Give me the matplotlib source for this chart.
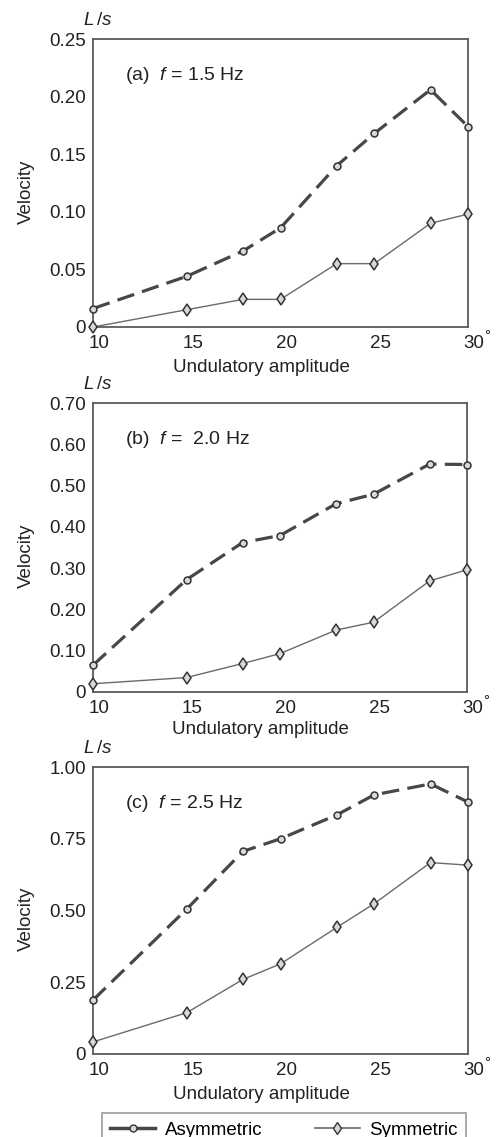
import matplotlib
matplotlib.use("Agg")
import matplotlib.pyplot as plt
import matplotlib.transforms as mtransforms
from matplotlib.lines import Line2D

plt.rcParams['font.family'] = ['Liberation Sans', 'DejaVu Sans']
plt.rcParams['mathtext.fontset'] = 'custom'
plt.rcParams['mathtext.it'] = 'Liberation Sans:italic'
plt.rcParams['mathtext.rm'] = 'Liberation Sans'

# amplitude (degrees)
amplitude = [10, 15, 18, 20, 23, 25, 28, 30]

# (a) f = 1.5 Hz
asym_a = [0.016, 0.044, 0.066, 0.086, 0.140, 0.168, 0.206, 0.174]
sym_a = [0.0, 0.015, 0.024, 0.024, 0.055, 0.055, 0.090, 0.098]
# (b) f = 2.0 Hz
asym_b = [0.065, 0.272, 0.362, 0.379, 0.456, 0.479, 0.552, 0.551]
sym_b = [0.020, 0.035, 0.069, 0.093, 0.150, 0.169, 0.269, 0.296]
# (c) f = 2.5 Hz
asym_c = [0.188, 0.505, 0.706, 0.750, 0.833, 0.903, 0.941, 0.878]
sym_c = [0.042, 0.144, 0.260, 0.314, 0.441, 0.524, 0.667, 0.658]

titles = [r"(a)  $f$ = 1.5 Hz", r"(b)  $f$ =  2.0 Hz", r"(c)  $f$ = 2.5 Hz"]
yticks_list = [[0, 0.05, 0.10, 0.15, 0.20, 0.25],
               [0, 0.10, 0.20, 0.30, 0.40, 0.50, 0.60, 0.70],
               [0, 0.25, 0.50, 0.75, 1.00]]
xticks = [10, 15, 20, 25, 30]

W, H = 498, 1137
fig = plt.figure(figsize=(W / 100, H / 100), dpi=100)

# axes boxes in pixels: left, right, top, bottom
boxes = [(93, 468, 39, 327), (93, 467, 403, 692), (93, 468, 767, 1054)]
label_y = [-0.110, -0.100, -0.111]

series = [(asym_a, sym_a), (asym_b, sym_b), (asym_c, sym_c)]

dark = '#474747'
light = '#6a6a6a'

for i, (l, r, t, b) in enumerate(boxes):
    ax = fig.add_axes([l / W, 1 - b / H, (r - l) / W, (b - t) / H])
    asym, sym = series[i]
    ax.plot(amplitude, asym, color=dark, lw=2.3, dashes=(5.5, 2.6),
            marker='o', ms=5, mfc='#d8d8d8', mec='#333333', mew=1.1, clip_on=False, zorder=3)
    ax.plot(amplitude, sym, color=light, lw=1.0,
            marker='d', ms=6, mfc='#d8d8d8', mec='#333333', mew=1.1, clip_on=False, zorder=3)
    yt = yticks_list[i]
    ax.set_xlim(10, 30)
    ax.set_ylim(0, yt[-1])
    ax.set_yticks(yt)
    ax.set_yticklabels(['0'] + ['%.2f' % v for v in yt[1:]])
    ax.set_xticks(xticks)
    ax.tick_params(length=0, labelsize=13.5, colors='#222222', pad=5)
    ax.tick_params(axis='x', pad=6)
    offset = mtransforms.ScaledTranslation(6 / 100, 0, fig.dpi_scale_trans)
    for lab in ax.get_xticklabels():
        lab.set_transform(lab.get_transform() + offset)
    for s in ax.spines.values():
        s.set_color('#5a5a5a')
        s.set_linewidth(1.3)
    ax.set_xlabel('Undulatory amplitude', fontsize=13.5, color='#222222')
    ax.xaxis.set_label_coords(0.448, label_y[i])
    ax.set_ylabel('Velocity', fontsize=13.5, color='#222222')
    ax.yaxis.set_label_coords(-0.154, 0.47)
    ax.text(0.011, 1.064, r'$L\,/s$', transform=ax.transAxes, fontsize=13.5,
            ha='center', va='center', color='#222222')
    ax.text(1.05, -0.03, '°', transform=ax.transAxes, fontsize=11,
            ha='center', va='center', color='#222222')
    ax.text(0.085, 0.873, titles[i], transform=ax.transAxes, fontsize=14,
            ha='left', va='center', color='#222222')

handles = [Line2D([], [], color=dark, lw=2.5, marker='o', ms=5, mfc='#d8d8d8', mec='#333333'),
           Line2D([], [], color=light, lw=1.2, marker='d', ms=6, mfc='#d8d8d8', mec='#333333')]
leg = fig.legend(handles, ['Asymmetric', 'Symmetric'], loc='upper left',
                 bbox_to_anchor=(102 / W, 1 - 1113 / H), ncol=2, fontsize=13.5,
                 frameon=True, fancybox=False, handlelength=2.4, handletextpad=0.5,
                 columnspacing=2.8, borderpad=0.45, borderaxespad=0)
leg.get_frame().set_edgecolor('#8a8a8a')
leg.get_frame().set_linewidth(1.3)

fig.savefig('out.png', dpi=100)
